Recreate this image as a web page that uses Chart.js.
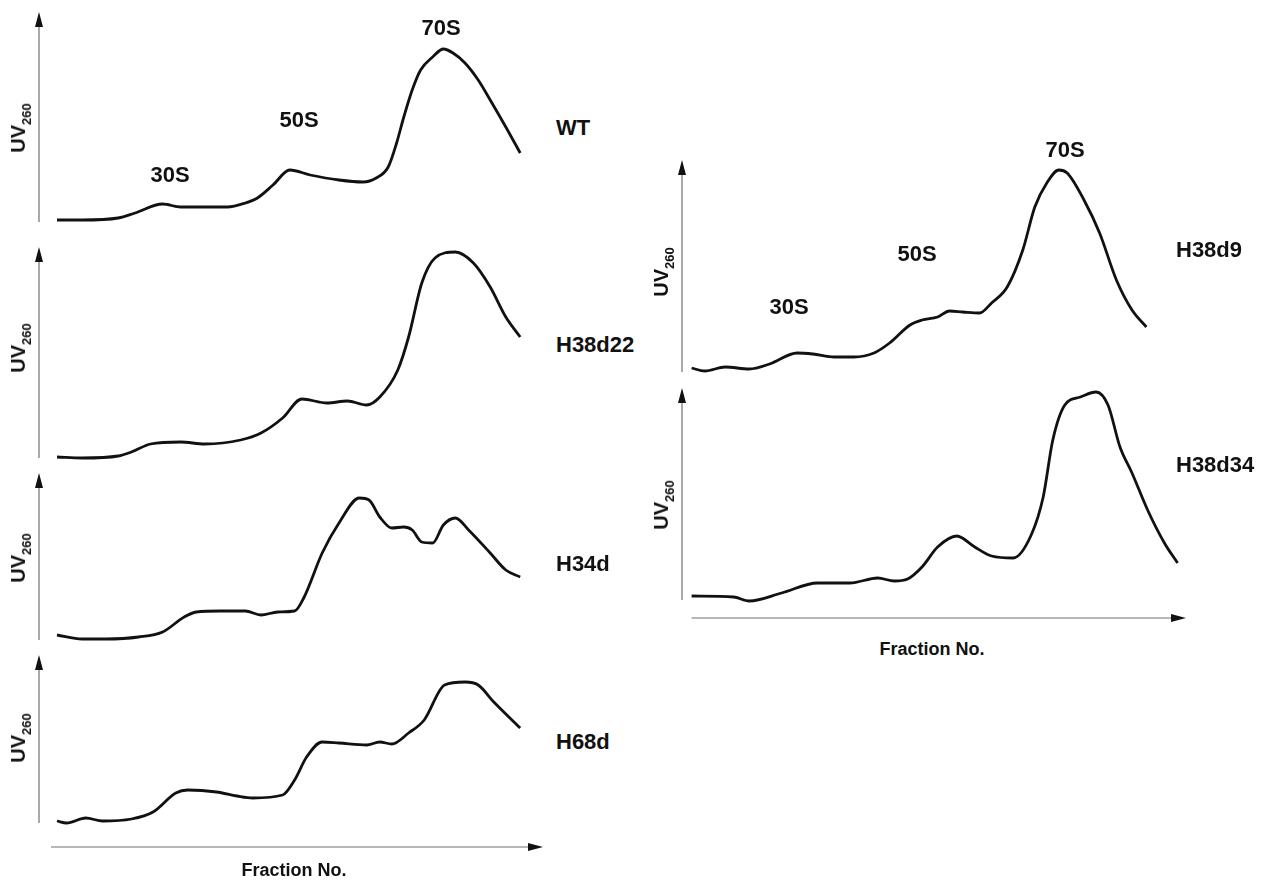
<!DOCTYPE html>
<html>
<head>
<meta charset="utf-8">
<title>Sucrose gradient profiles</title>
<script src="https://cdn.jsdelivr.net/npm/chart.js@4.4.1/dist/chart.umd.min.js"></script>
<style>
  html, body { margin: 0; padding: 0; background: #fff; }
  body { width: 1272px; height: 882px; position: relative; overflow: hidden;
         font-family: "Liberation Sans", Arial, sans-serif; color: #111; }
  canvas { position: absolute; }
  .lbl { position: absolute; white-space: nowrap; font-size: 22px; font-weight: bold; line-height: 1; transform: translate(-50%, -50%); }
  .name { position: absolute; white-space: nowrap; font-size: 22px; font-weight: bold; line-height: 1; transform: translateY(-50%); }
  .uv { position: absolute; white-space: nowrap; font-size: 20px; font-weight: bold; line-height: 1;
        transform: translate(-50%, -50%) rotate(-90deg); }
  .uv sub { font-size: 13px; position: relative; top: 0.1em; vertical-align: sub; }
  .axt { position: absolute; white-space: nowrap; font-size: 18px; font-weight: bold; line-height: 1; transform: translate(-50%, -50%); }
</style>
</head>
<body>
<script>
// Fraction positions along the gradient and UV260 readings for each strain
const wtFrac = [1.5,3.6,6.6,8,10.3,11.8,15.7,17.2,18.2,19.5,20.9,22.6,25,27,28.1,29.1,29.8,30.4,31.1,31.8,32.8,33.7,34.5,35.5,36.6,37.6,38.9,40.1];
const wtUV   = [1,1,2,4.5,9,7.5,7.5,9.5,12,18.5,26,23.5,21,20,22,27.5,39.5,52.5,66,76,82.5,86.5,84.5,79.5,71,61,47.5,34.5];

const h38d22Frac = [1.5,3.6,6.6,7.7,9.3,11.8,13.8,16.8,18.5,20.3,21.9,24,25.7,27.3,28.4,29.9,30.8,31.9,33,34.7,36.2,37.6,38.9,40.1];
const h38d22UV   = [0.5,0,1,3,7,8,7,9,12.5,20,29.5,27.5,28.5,26.5,30.5,44,60.5,87.5,100,103,97.5,85.5,70.5,60.5];

const h34dFrac = [1.5,3.6,5.6,8.3,10.3,12.1,13.1,15.1,17.2,18.5,19.9,21.3,22.1,23.6,25,26.7,27.5,28.4,29.4,30.4,31.1,31.9,32.8,33.7,34.7,35.8,37.6,38.9,40.1];
const h34dUV   = [2.5,0.5,0.5,1.5,4,11.5,14,14.5,14.5,12.5,14,14.5,21.5,43.5,58.5,71,70,61.5,56,56.5,55,49,48.5,57.5,61,55,43.5,35,31.5];

const h68dFrac = [1.5,2.3,3.9,5.3,7.7,9.5,11.4,12.4,14.8,16.5,17.8,20.3,21.3,22.3,23.6,25,27.3,28.4,29.4,30.8,32.1,33.8,35.5,36.6,37.9,40.1];
const h68dUV   = [1,0,2.5,1,2,5.5,15,16.5,15.5,13.5,12.5,14,21.5,33,40.5,40,39,40.5,39.5,45,51.5,69,70.5,69,60.5,47.5];

const h38d9Frac = [0.8,1.9,3.6,5.6,7.3,9.6,10.9,12.7,14.3,16,17.3,19,20,21.3,22.3,23.4,24.8,25.8,27.1,28.4,29.4,30.4,31.4,32.1,33.5,34.8,36.2,37.5,38.7];
const h38d9UV   = [2,0.5,2.5,1.5,4,9.5,9,7.5,7.5,9.5,14.5,23.5,26,27.5,30.5,30,29.5,34.5,42.5,61,82.5,94.5,101,99.5,86,69.5,46,31,22.5];

const h38d34Frac = [0.8,4.3,5.6,8.3,11.3,14,16.3,17.7,18.8,20,21.3,22.9,24.4,25.8,27.6,29.1,30.1,30.9,31.9,33.2,34.5,35.5,36.5,37.5,38.8,40.2,41.3];
const h38d34UV   = [2,1.5,-0.5,3.5,8.5,8.5,11,9.5,10.5,16.5,26.5,32,26.5,22,21,32.5,51.5,80,97.5,101.5,104,97.5,76.5,63.5,45,28.5,18.5];

// Text
const strainNames = ['WT', 'H38d22', 'H34d', 'H68d', 'H38d9', 'H38d34'];
const peakNames = ['30S', '50S', '70S'];
const yTitleMain = 'UV', yTitleSub = '260';
const xTitle = 'Fraction No.';

// Layout of the two columns of stacked profiles
const FRAC_MAX = 42;
const columns = { left: { axisX: 39 }, right: { axisX: 682 } };
const PX_PER_FRAC = 12;
const PAD = { left: 10, right: 10, top: 12, bottom: 6 };

const panels = [
  { name: strainNames[0], col: 'left',  top: 12,  bottom: 222, frac: wtFrac,     uv: wtUV,
    nameAt: [556, 128], uvAt: 128, peaks: [[170, 175], [299, 120], [441, 28]] },
  { name: strainNames[1], col: 'left',  top: 247, bottom: 458, frac: h38d22Frac, uv: h38d22UV,
    nameAt: [556, 345], uvAt: 348 },
  { name: strainNames[2], col: 'left',  top: 473, bottom: 640, frac: h34dFrac,   uv: h34dUV,
    nameAt: [556, 564], uvAt: 558 },
  { name: strainNames[3], col: 'left',  top: 655, bottom: 823, frac: h68dFrac,   uv: h68dUV,
    nameAt: [556, 742], uvAt: 738, baseline: { gap: 24, from: 1.0 }, xTitleAt: [294, 870] },
  { name: strainNames[4], col: 'right', top: 160, bottom: 372, frac: h38d9Frac,  uv: h38d9UV,
    nameAt: [1176, 250], uvAt: 272, peaks: [[789, 307], [917, 254], [1065, 150]] },
  { name: strainNames[5], col: 'right', top: 388, bottom: 600, frac: h38d34Frac, uv: h38d34UV,
    nameAt: [1176, 465], uvAt: 505, baseline: { gap: 18, from: 0.8 }, xTitleAt: [932, 649] }
];

// Draws the arrowed y axis of each profile and, for the lowest one in a column, the fraction axis
const arrowAxes = {
  id: 'arrowAxes',
  afterDatasetsDraw(chart, args, opts) {
    const { ctx, scales: { x, y } } = chart;
    const x0 = x.getPixelForValue(0);
    const yb = y.getPixelForValue(0);
    const yt = y.getPixelForValue(y.max);
    ctx.save();
    ctx.strokeStyle = '#707070';
    ctx.lineWidth = 1.2;
    ctx.beginPath();
    ctx.moveTo(x0, yb);
    ctx.lineTo(x0, yt + 10);
    ctx.stroke();
    ctx.fillStyle = '#111';
    ctx.beginPath();
    ctx.moveTo(x0, yt);
    ctx.lineTo(x0 - 4, yt + 15);
    ctx.lineTo(x0 + 4, yt + 15);
    ctx.closePath();
    ctx.fill();
    if (opts.baseline) {
      const by = yb + opts.baseline.gap;
      const xs = x.getPixelForValue(opts.baseline.from);
      const xe = x.getPixelForValue(x.max);
      ctx.beginPath();
      ctx.moveTo(xs, by);
      ctx.lineTo(xe - 10, by);
      ctx.stroke();
      ctx.beginPath();
      ctx.moveTo(xe, by);
      ctx.lineTo(xe - 15, by - 4);
      ctx.lineTo(xe - 15, by + 4);
      ctx.closePath();
      ctx.fill();
    }
    ctx.restore();
  }
};

function addText(cls, html, x, y) {
  const d = document.createElement('div');
  d.className = cls;
  d.innerHTML = html;
  d.style.left = x + 'px';
  d.style.top = y + 'px';
  document.body.appendChild(d);
}

panels.forEach(p => {
  const axisX = columns[p.col].axisX;
  const padBottom = p.baseline ? PAD.bottom + p.baseline.gap + 10 : PAD.bottom;
  const w = FRAC_MAX * PX_PER_FRAC + PAD.left + PAD.right;
  const h = (p.bottom - p.top) + PAD.top + padBottom;
  const cv = document.createElement('canvas');
  cv.width = w; cv.height = h;
  cv.style.width = w + 'px'; cv.style.height = h + 'px';
  cv.style.left = (axisX - PAD.left) + 'px';
  cv.style.top = (p.top - PAD.top) + 'px';
  document.body.appendChild(cv);

  new Chart(cv, {
    type: 'line',
    data: {
      datasets: [{
        label: p.name,
        data: p.frac.map((f, i) => ({ x: f, y: p.uv[i] })),
        borderColor: '#111',
        borderWidth: 2.8,
        pointRadius: 0,
        cubicInterpolationMode: 'monotone',
        fill: false,
        clip: false
      }]
    },
    options: {
      responsive: false,
      devicePixelRatio: 1,
      animation: false,
      events: [],
      layout: { padding: { left: PAD.left, right: PAD.right, top: PAD.top, bottom: padBottom } },
      plugins: {
        legend: { display: false },
        tooltip: { enabled: false },
        arrowAxes: { baseline: p.baseline }
      },
      scales: {
        x: { type: 'linear', min: 0, max: FRAC_MAX, display: false },
        y: { type: 'linear', min: 0, max: (p.bottom - p.top) / 2, display: false }
      }
    },
    plugins: [arrowAxes]
  });

  addText('name', p.name, p.nameAt[0], p.nameAt[1]);
  addText('uv', yTitleMain + '<sub>' + yTitleSub + '</sub>', axisX - 19, p.uvAt);
  if (p.peaks) p.peaks.forEach((pt, i) => addText('lbl', peakNames[i], pt[0], pt[1]));
  if (p.xTitleAt) addText('axt', xTitle, p.xTitleAt[0], p.xTitleAt[1]);
});
</script>
</body>
</html>
